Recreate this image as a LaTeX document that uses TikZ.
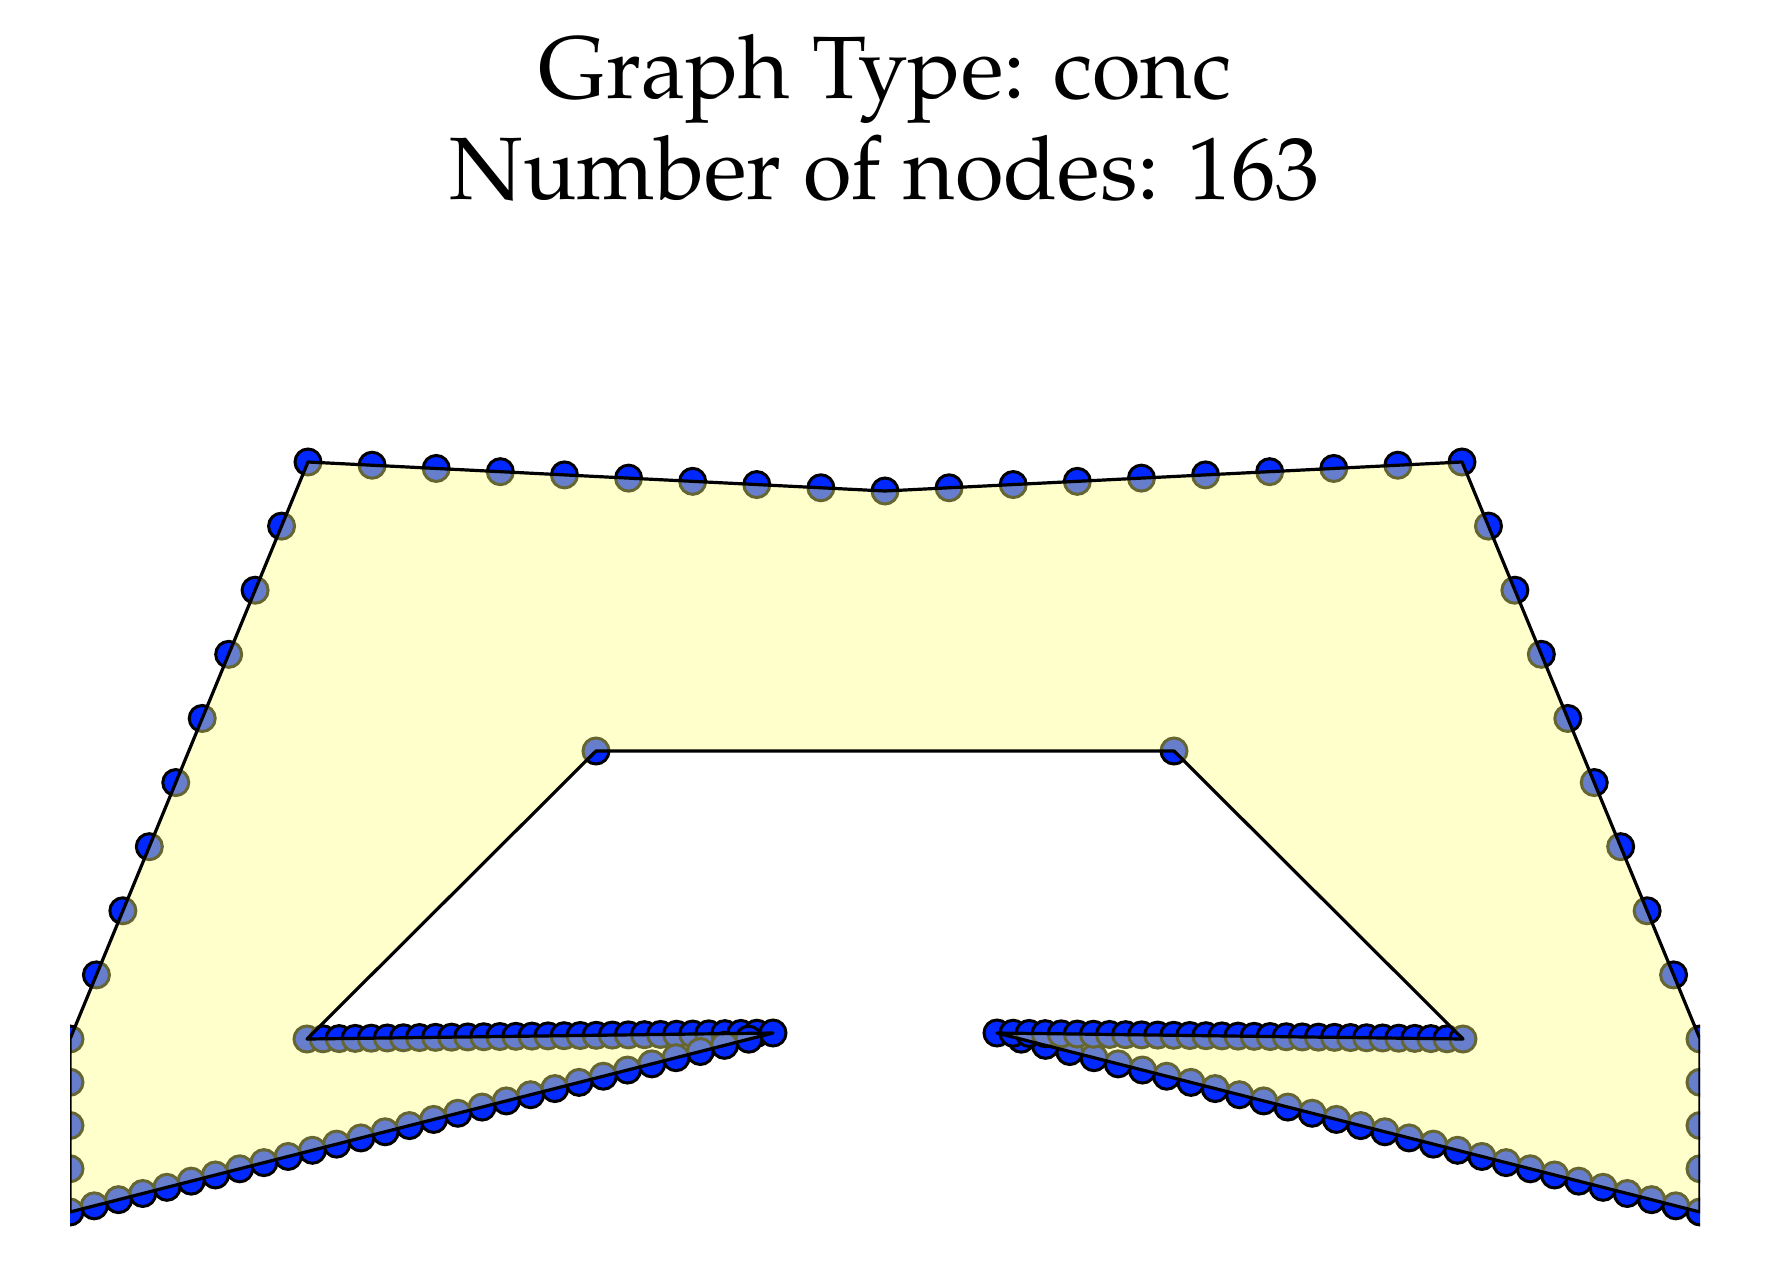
\documentclass[tikz,border=0pt]{standalone}
\usepackage[T1]{fontenc}
\usepackage{mathpazo}
\usetikzlibrary{calc}
\definecolor{nodeblue}{RGB}{0,40,255}
\definecolor{polyfill}{RGB}{255,255,128}
\begin{document}
\begin{tikzpicture}[x=0.1mm,y=-0.1mm,
  vtx/.style={circle,inner sep=0pt,minimum size=2.6mm,fill=nodeblue,draw=black,line width=0.3mm},
  titletext/.style={anchor=base,inner sep=0pt,font=\fontsize{25.2}{30}\selectfont}]
\useasboundingbox (0,0) rectangle (1776,1280);
\node[titletext] (title1) at (885,98) {Graph Type: conc};
\node[titletext] (title2) at (885,199) {Number of nodes: 163};

\coordinate (p1) at (308,462);
\coordinate (p2) at (885,491);
\coordinate (p3) at (1462,462);
\coordinate (p4) at (1700,1039);
\coordinate (p5) at (1700,1212);
\coordinate (p6) at (997,1033);
\coordinate (p7) at (1463,1039);
\coordinate (p8) at (1174,751);
\coordinate (p9) at (596,751);
\coordinate (p10) at (307,1039);
\coordinate (p11) at (773,1033);
\coordinate (p12) at (70,1212);
\coordinate (p13) at (70,1039);

\begin{scope}
\clip (70,0) rectangle (1700,1280);
\foreach \a/\b/\n [count=\s] in {p1/p2/9,p2/p3/9,p3/p4/9,p4/p5/4,p5/p6/29,p6/p7/29,
    p7/p8/1,p8/p9/1,p9/p10/1,p10/p11/29,p11/p12/29,p12/p13/4,p13/p1/9}{
  \pgfmathtruncatemacro\last{\n-1}
  \foreach \i in {0,...,\last}
    \node[vtx] (v\s-\i) at ($(\a)!{\i/\n}!(\b)$) {};
}
\fill[polyfill,fill opacity=0.4] (p1) -- (p2) -- (p3) -- (p4) -- (p5) -- (p6) -- (p7)
  -- (p8) -- (p9) -- (p10) -- (p11) -- (p12) -- (p13) -- cycle;
\draw[line width=0.32mm,line join=round] (p1) -- (p2) -- (p3) -- (p4) -- (p5) -- (p6) -- (p7)
  -- (p8) -- (p9) -- (p10) -- (p11) -- (p12) -- (p13) -- cycle;
\end{scope}
\end{tikzpicture}
\end{document}
